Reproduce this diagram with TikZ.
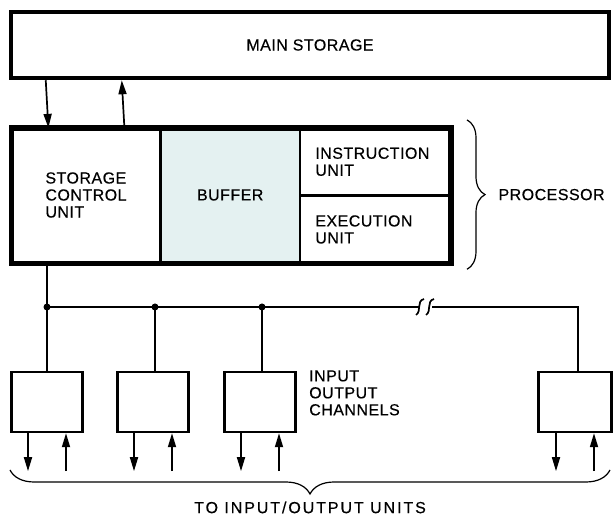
\documentclass[tikz,border=0pt]{standalone}
\usepackage{fontspec}
\setmainfont[LetterSpace=3, FakeBold=0.4]{Liberation Sans}
\usepackage{xcolor}
\definecolor{bufferblue}{RGB}{228,241,241}
\usetikzlibrary{arrows.meta, positioning, decorations.pathreplacing}

\begin{document}
\begin{tikzpicture}[x=1pt, y=-1pt,
  membox/.style={rectangle, draw, line width=4.5pt, minimum width=598pt, minimum height=66pt,
               font=\fontsize{16}{17}\selectfont},
  cell/.style={rectangle, draw, line width=1.2pt, inner sep=0pt, align=left,
               font=\fontsize{16}{17}\selectfont},
  chanbox/.style={rectangle, draw, line width=2.4pt, minimum width=71pt, minimum height=60pt},
  lbl/.style={font=\fontsize{16}{17}\selectfont, align=left},
  arr/.style={-{Triangle[length=14pt, width=8pt]}, line width=1.7pt},
  bus/.style={line width=1.5pt},
  junc/.style={circle, fill, inner sep=0pt, minimum size=7pt}
]
\useasboundingbox (0,0) rectangle (614,521);

% main storage
\node[membox] (mem) at (310,45) {MAIN STORAGE};

% processor cells
\node[cell, minimum width=148pt, minimum height=133pt] (scu) at (86,195) {STORAGE\\CONTROL\\UNIT};
\node[cell, fill=bufferblue, minimum width=138pt, minimum height=133pt, right=0pt of scu] (buf) {BUFFER};
\node[cell, minimum width=150pt, minimum height=66.5pt, anchor=north west] (iu) at (buf.north east) {};
\node[cell, minimum width=150pt, minimum height=66.5pt, anchor=north] (eu) at (iu.south) {};
\node[lbl, anchor=west] at ([xshift=12pt]iu.west) {INSTRUCTION\\UNIT};
\node[lbl, anchor=west] at ([xshift=12pt]eu.west) {EXECUTION\\UNIT};
\draw[line width=5.5pt] (scu.north west) rectangle (eu.south east);

\draw[decorate, decoration={brace, amplitude=18pt}, line width=1.2pt]
  ([xshift=16pt, yshift=8pt]iu.north east) -- ([xshift=16pt, yshift=-6pt]eu.south east) coordinate[pos=0.5] (pbrace);
\node[lbl, right=28pt of pbrace] (proc) {PROCESSOR};

% storage paths
\draw[arr] ([xshift=37pt]mem.south west) -- ([xshift=37pt]scu.north west);
\draw[arr] ([xshift=113pt]scu.north west) -- ([xshift=113pt]mem.south west);

% channel bus
\coordinate (j1) at (47,307);
\coordinate (j2) at (155,307);
\coordinate (j3) at (262,307);
\coordinate (brk1) at (419,307);
\coordinate (brk2) at (432,307);
\coordinate (j4) at (578,307);

\node[chanbox] (ch1) at (47,402) {};
\node[chanbox] (ch2) at (153,402) {};
\node[chanbox] (ch3) at (260,402) {};
\node[chanbox, minimum width=73pt] (ch4) at (575,402) {};
\node[lbl, anchor=north west] (chlbl) at ([xshift=9pt, yshift=4pt]ch3.north east) {INPUT\\OUTPUT\\CHANNELS};

\draw[bus] (scu.south -| j1) -- (j1) -- (ch1.north -| j1);
\draw[bus] (j1) -- (brk1);
\draw[bus] (brk2) -- (j4) -- (ch4.north -| j4);
\draw[bus] (j2) -- (ch2.north -| j2);
\draw[bus] (j3) -- (ch3.north -| j3);
\foreach \j in {j1, j2, j3} \node[junc] at (\j) {};

% break mark
\foreach \dx in {0, 10}
  \draw[line width=1.7pt] ([xshift=\dx pt+5pt, yshift=8pt]brk1) .. controls ([xshift=\dx pt-3pt, yshift=6pt]brk1)
    and ([xshift=\dx pt+3pt, yshift=-4pt]brk1) .. ([xshift=\dx pt-3pt, yshift=-8pt]brk1);

% paths to i/o units
\foreach \c in {ch1, ch2, ch3, ch4} {
  \coordinate (\c-out) at ([xshift=-19pt, yshift=-38pt]\c.south);
  \coordinate (\c-in) at ([xshift=19pt, yshift=-38pt]\c.south);
  \draw[arr] ([xshift=-19pt]\c.south) -- (\c-out);
  \draw[arr] (\c-in) -- ([xshift=19pt]\c.south);
}

\draw[decorate, decoration={brace, amplitude=24pt, mirror}, line width=1.2pt]
  (10,470) -- (610,470) coordinate[pos=0.5] (iobrace);
\node[lbl, below=28pt of iobrace, font=\fontsize{16}{17}\selectfont\addfontfeature{LetterSpace=12}] (iolbl) {TO INPUT/OUTPUT UNITS};
\end{tikzpicture}
\end{document}
